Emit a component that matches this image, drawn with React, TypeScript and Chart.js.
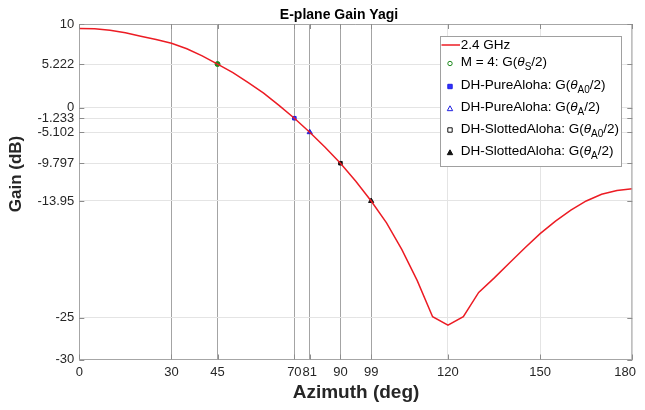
import React, { useEffect, useRef } from 'react';
import { Chart, registerables } from 'chart.js';

Chart.register(...registerables);

// ---- data ----
const angles = [0, 5, 10, 15, 20, 25, 30, 35, 40, 45, 50, 55, 60, 65, 70, 75, 80, 85, 90, 95, 100, 105, 110, 115, 120, 125, 130, 135, 140, 145, 150, 155, 160, 165, 170, 175, 180];
const gain = [9.45, 9.42, 9.25, 8.95, 8.55, 8.15, 7.7, 7.05, 6.2, 5.222, 4.2, 3.0, 1.75, 0.3, -1.233, -2.9, -4.7, -6.6, -8.75, -11.1, -13.7, -16.9, -20.6, -24.9, -25.9, -24.9, -22.0, -20.3, -18.5, -16.7, -15.0, -13.5, -12.2, -11.1, -10.3, -9.85, -9.65];

const xTickValues = [0, 30, 45, 70, 75, 85, 95, 120, 150, 180];
const xTickLabels = ['0', '30', '45', '70', '81', '90', '99', '120', '150', '180'];
const xDarkGrid = [30, 45, 70, 75, 85, 95];

const yTickValues = [-30, -25, -11.1, -6.6, -2.9, -1.233, 0, 5.222, 10];
const yTickLabels = ['-30', '-25', '-13.95', '-9.797', '-5.102', '-1.233', '0', '5.222', '10'];

const markerX = [45, 70, 75, 85, 95];
const markerY = [5.222, -1.233, -2.9, -6.6, -11.1];

const seriesLabel = '2.4 GHz';
const markerLabels = [
  [{ t: 'M = 4: G(' }, { t: 'θ', it: true }, { t: 'S', sub: true }, { t: '/2)' }],
  [{ t: 'DH-PureAloha: G(' }, { t: 'θ', it: true }, { t: 'A0', sub: true }, { t: '/2)' }],
  [{ t: 'DH-PureAloha: G(' }, { t: 'θ', it: true }, { t: 'A', sub: true }, { t: '/2)' }],
  [{ t: 'DH-SlottedAloha: G(' }, { t: 'θ', it: true }, { t: 'A0', sub: true }, { t: '/2)' }],
  [{ t: 'DH-SlottedAloha: G(' }, { t: 'θ', it: true }, { t: 'A', sub: true }, { t: '/2)' }],
];

const titleText = 'E-plane Gain Yagi';
const xTitle = 'Azimuth (deg)';
const yTitle = 'Gain (dB)';

// ---- styles ----
const FONT = '"Liberation Sans", Arial, Helvetica, sans-serif';
const LINE_COLOR = '#ec1c24';
const TEXT_COLOR = '#262626';
const W = 645;
const H = 410;
const VISIBLE_RIGHT = 636;
const markerStyles = [
  { shape: 'circle', stroke: '#1f8a1f', fill: 'rgba(0,0,0,0)', r: 2.5 },
  { shape: 'rect', stroke: '#2020e0', fill: '#3030ff', r: 2.5 },
  { shape: 'triangle', stroke: '#2020e0', fill: 'rgba(0,0,0,0)', r: 3 },
  { shape: 'rect', stroke: '#111', fill: 'rgba(0,0,0,0)', r: 2.5 },
  { shape: 'triangle', stroke: '#111', fill: '#111', r: 3 },
];

function drawMarker(ctx: CanvasRenderingContext2D, shape: string, x: number, y: number, r: number, stroke: string, fill: string) {
  ctx.save();
  ctx.lineWidth = 1;
  ctx.strokeStyle = stroke;
  ctx.fillStyle = fill;
  ctx.beginPath();
  if (shape === 'circle') {
    ctx.arc(x, y, r, 0, Math.PI * 2);
  } else if (shape === 'rect') {
    ctx.rect(x - r, y - r, 2 * r, 2 * r);
  } else {
    ctx.moveTo(x, y - r);
    ctx.lineTo(x + r, y + r * 0.8);
    ctx.lineTo(x - r, y + r * 0.8);
    ctx.closePath();
  }
  ctx.fill();
  ctx.stroke();
  ctx.restore();
}

function drawRich(ctx: CanvasRenderingContext2D, segs: any[], x: number, y: number, size: number) {
  let cx = x;
  ctx.textAlign = 'left';
  ctx.textBaseline = 'middle';
  for (const s of segs) {
    if (s.sub) {
      ctx.font = `${Math.round(size * 0.72)}px ${FONT}`;
      ctx.fillText(s.t, cx, y + size * 0.38);
    } else if (s.it) {
      ctx.font = `italic ${size}px ${FONT}`;
      ctx.fillText(s.t, cx, y);
    } else {
      ctx.font = `${size}px ${FONT}`;
      ctx.fillText(s.t, cx, y);
    }
    cx += ctx.measureText(s.t).width;
  }
}

const decorPlugin = {
  id: 'decor',
  afterDatasetsDraw(chart: any) {
    const { ctx, chartArea: a, scales } = chart;
    ctx.save();
    // box top & right
    ctx.strokeStyle = '#a6a6a6';
    ctx.lineWidth = 1;
    ctx.beginPath();
    ctx.moveTo(a.left, a.top + 0.5);
    ctx.lineTo(a.right, a.top + 0.5);
    ctx.moveTo(a.right - 0.5, a.top);
    ctx.lineTo(a.right - 0.5, a.bottom);
    ctx.stroke();
    // tick marks inside
    ctx.strokeStyle = '#8c8c8c';
    ctx.beginPath();
    for (const v of xTickValues) {
      const px = Math.round(scales.x.getPixelForValue(v)) + 0.5;
      ctx.moveTo(px, a.bottom);
      ctx.lineTo(px, a.bottom - 5);
      ctx.moveTo(px, a.top);
      ctx.lineTo(px, a.top + 5);
    }
    for (const v of yTickValues) {
      const py = Math.round(scales.y.getPixelForValue(v)) + 0.5;
      ctx.moveTo(a.left, py);
      ctx.lineTo(a.left + 5, py);
      ctx.moveTo(a.right, py);
      ctx.lineTo(a.right - 5, py);
    }
    ctx.stroke();
    ctx.restore();
  },
  afterDraw(chart: any) {
    const { ctx, chartArea: a, scales } = chart;
    ctx.save();
    // x tick labels (kept inside the visible page area)
    ctx.fillStyle = TEXT_COLOR;
    ctx.font = `13px ${FONT}`;
    ctx.textAlign = 'center';
    ctx.textBaseline = 'top';
    xTickValues.forEach((v, i) => {
      const label = xTickLabels[i];
      let px = scales.x.getPixelForValue(v);
      const half = ctx.measureText(label).width / 2;
      if (px + half > VISIBLE_RIGHT) px = VISIBLE_RIGHT - half;
      ctx.fillText(label, px, a.bottom + 6);
    });
    // title
    ctx.fillStyle = '#000';
    ctx.font = `bold 14px ${FONT}`;
    ctx.textAlign = 'center';
    ctx.textBaseline = 'alphabetic';
    ctx.fillText(titleText, 339, 18.5);
    // x title
    ctx.font = `bold 19px ${FONT}`;
    ctx.textBaseline = 'middle';
    ctx.fillStyle = TEXT_COLOR;
    ctx.fillText(xTitle, 356, 393);
    // y title
    ctx.save();
    ctx.translate(16.5, 174);
    ctx.rotate(-Math.PI / 2);
    ctx.font = `bold 17px ${FONT}`;
    ctx.textAlign = 'center';
    ctx.textBaseline = 'middle';
    ctx.fillText(yTitle, 0, 0);
    ctx.restore();

    // legend
    const lx = 440, ly = 36, lw = 181, lh = 130;
    ctx.fillStyle = '#ffffff';
    ctx.fillRect(lx, ly, lw, lh);
    ctx.strokeStyle = '#a0a0a0';
    ctx.lineWidth = 1;
    ctx.strokeRect(lx + 0.5, ly + 0.5, lw, lh);
    const textX = 460.7;
    const size = 13.5;
    ctx.strokeStyle = LINE_COLOR;
    ctx.lineWidth = 1.5;
    ctx.beginPath();
    ctx.moveTo(441.5, 45);
    ctx.lineTo(460, 45);
    ctx.stroke();
    ctx.fillStyle = '#000';
    ctx.font = `${size}px ${FONT}`;
    ctx.textAlign = 'left';
    ctx.textBaseline = 'middle';
    ctx.fillText(seriesLabel, textX, 45.5);
    const rows = [63.5, 86.5, 108.5, 130, 152.5];
    markerLabels.forEach((segs, i) => {
      const st = markerStyles[i];
      drawMarker(ctx, st.shape, 450, rows[i], st.r - 0.3, st.stroke, st.fill);
      ctx.fillStyle = '#000';
      drawRich(ctx, segs, textX, rows[i] - 1, size);
    });
    ctx.restore();
  },
};

export default function App() {
  const ref = useRef<HTMLCanvasElement | null>(null);
  useEffect(() => {
    if (!ref.current) return;
    const curve = angles.map((a, i) => ({ x: a, y: gain[i] }));
    const markerSets = markerX.map((mx, i) => ({
      type: 'scatter' as const,
      label: 'm' + i,
      data: [{ x: mx, y: markerY[i] }],
      pointStyle: markerStyles[i].shape,
      pointRadius: markerStyles[i].r,
      pointBorderWidth: 1,
      pointBorderColor: markerStyles[i].stroke,
      pointBackgroundColor: markerStyles[i].fill === 'rgba(0,0,0,0)' ? markerStyles[i].stroke : markerStyles[i].fill,
      showLine: false,
    }));
    const chart = new Chart(ref.current, {
      type: 'line',
      data: {
        datasets: [
          {
            label: seriesLabel,
            data: curve,
            borderColor: LINE_COLOR,
            borderWidth: 1.5,
            pointRadius: 0,
            tension: 0,
            fill: false,
          } as any,
          ...(markerSets as any[]),
        ],
      },
      options: {
        animation: false,
        responsive: false,
        maintainAspectRatio: false,
        devicePixelRatio: 1,
        layout: { padding: { left: 0, top: 24, right: 12.7, bottom: 0 } },
        plugins: {
          legend: { display: false },
          title: { display: false },
          tooltip: { enabled: false },
        },
        scales: {
          x: {
            type: 'linear',
            min: 0,
            max: 180,
            afterBuildTicks: (s: any) => {
              s.ticks = xTickValues.map((v) => ({ value: v }));
            },
            afterFit: (s: any) => {
              s.height = 50.5;
              s.paddingLeft = 0;
              s.paddingRight = 0;
            },
            ticks: {
              display: false,
              autoSkip: false,
              maxRotation: 0,
              minRotation: 0,
            },
            grid: {
              drawTicks: false,
              color: (c: any) => (c.tick && xDarkGrid.includes(c.tick.value) ? '#a4a4a4' : '#e4e4e4'),
              lineWidth: 1,
            },
            border: { color: '#a6a6a6' },
          },
          y: {
            type: 'linear',
            min: -30,
            max: 10,
            afterBuildTicks: (s: any) => {
              s.ticks = yTickValues.map((v) => ({ value: v }));
            },
            afterFit: (s: any) => {
              s.width = 79.3;
              s.paddingTop = 0;
              s.paddingBottom = 0;
            },
            ticks: {
              autoSkip: false,
              padding: 5,
              color: TEXT_COLOR,
              font: { family: FONT, size: 13 },
              callback: (_v: any, i: number) => yTickLabels[i],
            },
            grid: {
              drawTicks: false,
              color: '#e4e4e4',
              lineWidth: 1,
            },
            border: { color: '#a6a6a6' },
          },
        },
      },
      plugins: [decorPlugin],
    } as any);
    return () => chart.destroy();
  }, []);
  return (
    <div style={{ width: W, height: H, margin: -8 }}>
      <canvas ref={ref} width={W} height={H} style={{ display: 'block', width: W, height: H }} />
    </div>
  );
}
